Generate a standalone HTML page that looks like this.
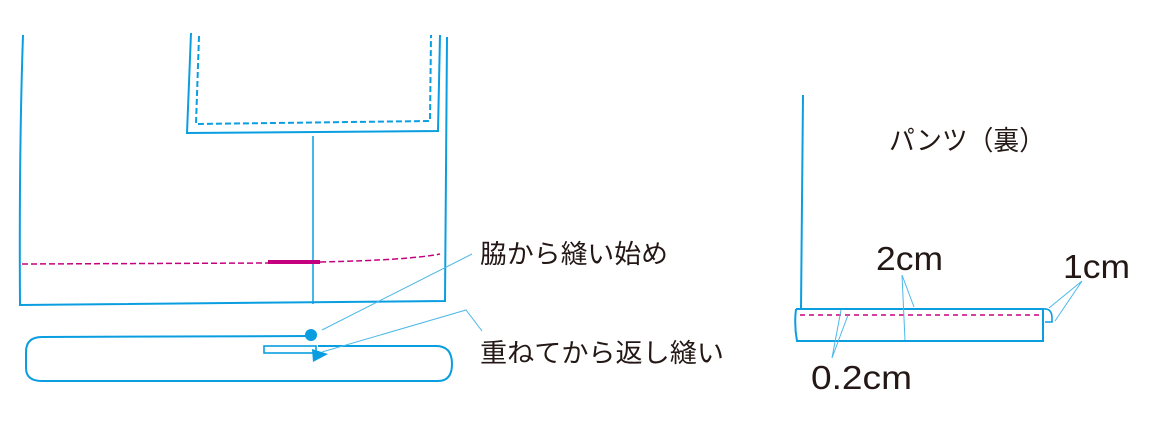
<!DOCTYPE html>
<html><head><meta charset="utf-8"><style>
body{margin:0;background:#fff;width:1158px;height:447px;overflow:hidden}
svg{position:absolute;left:0;top:0}
text{font-family:"Liberation Sans","Noto Sans CJK JP",sans-serif;fill:#231815}
</style></head><body>
<svg width="1158" height="447" viewBox="0 0 1158 447">
<g fill="none" stroke="#0a9ee0" stroke-width="2">
<path d="M23 35 Q19 150 20 305 Q240 303 445 301 L447 37"/>
<path d="M191 33 L187 133 L438 131 L440 35"/>
<path d="M199 36 L196 124 L430 121 L431 35" stroke-dasharray="6 3"/>
<line x1="313" y1="136" x2="313" y2="304" stroke-width="1.5"/>
<path d="M311 336 L42 337 Q26 337 26 352 L26 368 Q26 381 42 381 L438 381 Q452 381 452 364 Q452 346 436 346 L318 346"/>
<rect x="264" y="346" width="52" height="7" stroke-width="1.6"/>
<path d="M803 95 L801 309"/>
<path d="M796 309 L1043 309 L1043 341 L797 341 Q794 325 796 309"/>
<path d="M1043 309 Q1052 308 1052 318 L1052 322 L1045 322" stroke-width="1.6"/>
</g>
<path d="M312 349 L328 354 L313 362 Z" fill="#0a9ee0"/>
<circle cx="311" cy="335" r="6" fill="#0a9ee0"/>
<path d="M22 264 L270 263 M320 262 Q410 260 440 254" fill="none" stroke="#c5007f" stroke-width="1.5" stroke-dasharray="6 3"/>
<line x1="268" y1="262" x2="320" y2="262" stroke="#c5007f" stroke-width="4"/>
<line x1="800" y1="315" x2="1040" y2="315" stroke="#c5007f" stroke-width="1.5" stroke-dasharray="5 4"/>
<g stroke="#4cb8e8" stroke-width="1" fill="none">
<line x1="322" y1="330" x2="472" y2="254"/>
<path d="M322 352 L466 310 L482 331"/>
<path d="M902 275 L914 307 M902 275 L905 340"/>
<path d="M1082 281 L1049 308 M1082 281 L1055 321"/>
<path d="M832 358 L841 310 M832 358 L848 315"/>
</g>
<text x="480" y="263" font-size="26" textLength="188" lengthAdjust="spacingAndGlyphs">脇から縫い始め</text>
<text x="480" y="362" font-size="26" textLength="244" lengthAdjust="spacingAndGlyphs">重ねてから返し縫い</text>
<text x="889" y="150" font-size="27" textLength="156" lengthAdjust="spacingAndGlyphs">パンツ（裏）</text>
<text x="876" y="270" font-size="33" textLength="67" lengthAdjust="spacingAndGlyphs">2cm</text>
<text x="1063" y="278" font-size="33" textLength="67" lengthAdjust="spacingAndGlyphs">1cm</text>
<text x="811" y="389" font-size="33" textLength="101" lengthAdjust="spacingAndGlyphs">0.2cm</text>
</svg>
</body></html>
